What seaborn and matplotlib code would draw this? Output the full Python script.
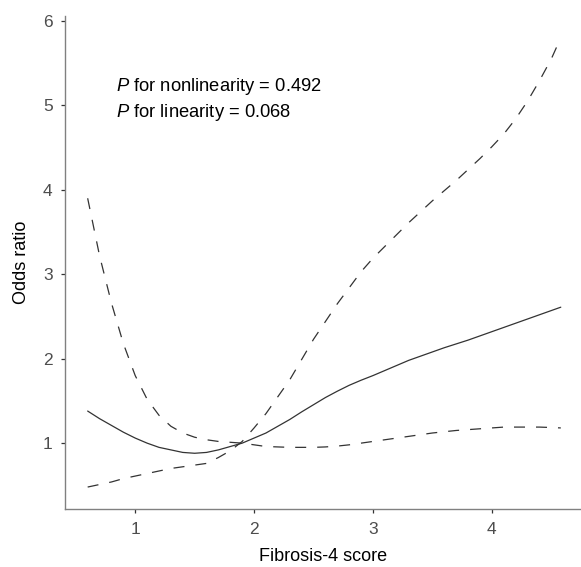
import numpy as np
import pandas as pd
import matplotlib
matplotlib.use("Agg")
import matplotlib.pyplot as plt
import seaborn as sns

# FIB-4 score grid and the curves
fib4 = [0.6, 0.7, 0.8, 0.9, 1.0, 1.1, 1.2, 1.3, 1.4, 1.5, 1.6, 1.7, 1.8, 1.9,
        2.0, 2.1, 2.2, 2.3, 2.4, 2.5, 2.6, 2.7, 2.8, 2.9, 3.0, 3.1, 3.2, 3.3,
        3.4, 3.5, 3.6, 3.7, 3.8, 3.9, 4.0, 4.1, 4.2, 4.3, 4.4, 4.5, 4.58]

odds_ratio = [1.38, 1.29, 1.21, 1.13, 1.06, 1.00, 0.95, 0.92, 0.89, 0.88, 0.89,
              0.92, 0.96, 1.00, 1.06, 1.12, 1.20, 1.28, 1.37, 1.455, 1.54, 1.615,
              1.685, 1.745, 1.80, 1.86, 1.92, 1.98, 2.03, 2.08, 2.13, 2.175, 2.22,
              2.27, 2.32, 2.37, 2.42, 2.47, 2.52, 2.57, 2.61]

ci_a = [3.90, 3.22, 2.66, 2.18, 1.80, 1.52, 1.33, 1.20, 1.12, 1.07, 1.04,
        1.02, 1.01, 1.00, 0.98, 0.96, 0.955, 0.95, 0.95, 0.95, 0.955, 0.965,
        0.98, 1.00, 1.02, 1.04, 1.06, 1.08, 1.10, 1.12, 1.135, 1.15, 1.16,
        1.17, 1.18, 1.19, 1.19, 1.19, 1.19, 1.185, 1.18]

ci_b = [0.48, 0.51, 0.54, 0.58, 0.61, 0.64, 0.67, 0.70, 0.72, 0.74, 0.76,
        0.83, 0.91, 1.02, 1.18, 1.35, 1.55, 1.75, 1.99, 2.23, 2.44, 2.65,
        2.84, 3.03, 3.19, 3.33, 3.47, 3.61, 3.74, 3.87, 3.99, 4.11, 4.24,
        4.37, 4.51, 4.66, 4.84, 5.05, 5.29, 5.55, 5.80]

x_ticks = [1, 2, 3, 4]
y_ticks = [1, 2, 3, 4, 5, 6]
p_nonlinear = "0.492"
p_linear = "0.068"

df = pd.DataFrame({
    "x": fib4 * 3,
    "y": odds_ratio + ci_a + ci_b,
    "curve": ["or"] * len(fib4) + ["lo"] * len(fib4) + ["hi"] * len(fib4),
})

sns.set_theme(style="ticks")
plt.rcParams["font.family"] = ["Liberation Sans", "DejaVu Sans"]
plt.rcParams["mathtext.fontset"] = "custom"
plt.rcParams["mathtext.rm"] = "Liberation Sans"
plt.rcParams["mathtext.it"] = "Liberation Sans:italic"

fig = plt.figure(figsize=(5.81, 5.67), dpi=100)
ax = fig.add_axes([0.112, 0.102, 0.888, 0.870])

line_col = "#333333"
sns.lineplot(data=df, x="x", y="y", hue="curve", style="curve",
             palette={"or": line_col, "lo": line_col, "hi": line_col},
             dashes={"or": "", "lo": (8.8, 8.8), "hi": (8.8, 8.8)},
             linewidth=0.9, legend=False, sort=False, ax=ax)

ax.set_xlim(0.41, 4.75)
ax.set_ylim(0.218, 6.06)
ax.set_xticks(x_ticks)
ax.set_yticks(y_ticks)
ax.set_xlabel("Fibrosis-4 score", fontsize=13, color="black", labelpad=8)
ax.set_ylabel("Odds ratio", fontsize=13, color="black", labelpad=9)
ax.tick_params(axis="both", labelsize=12.5, labelcolor="#4d4d4d", color="#333333",
               length=3, width=0.9, pad=6)

for side in ["top", "right"]:
    ax.spines[side].set_visible(False)
for side in ["left", "bottom"]:
    ax.spines[side].set_color("#808080")
    ax.spines[side].set_linewidth(1.0)

ax.text(0.84, 5.17, r"$\it{P}$ for nonlinearity = " + p_nonlinear,
        fontsize=13.2, color="black")
ax.text(0.84, 4.86, r"$\it{P}$ for linearity = " + p_linear,
        fontsize=13.2, color="black")

fig.savefig("out.png", dpi=100)
